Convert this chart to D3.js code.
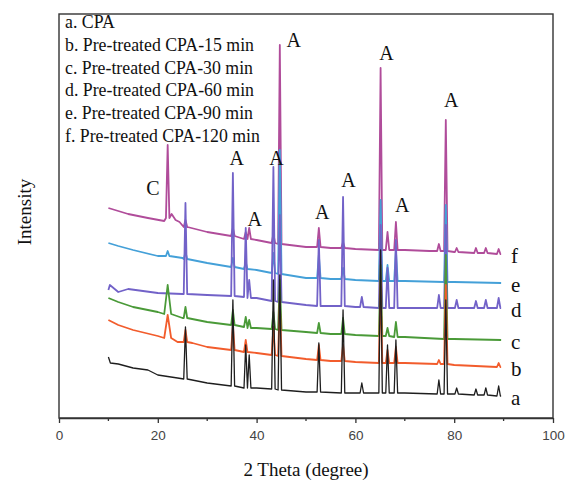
<!DOCTYPE html>
<html>
<head>
<meta charset="utf-8">
<script src="https://cdn.jsdelivr.net/npm/d3@7"></script>
<style>
  body { margin: 0; background: #fff; }
  text { font-family: "Liberation Serif", "Times New Roman", serif; }
  .tick text { font-family: "Liberation Sans", Arial, sans-serif; }
</style>
</head>
<body>
<div id="chart"></div>
<script>
// XRD patterns, 2theta in degrees, intensity in arbitrary units (stacked)
var seriesNames = ['a', 'b', 'c', 'd', 'e', 'f'];
var legendLabels = [
    'a. CPA',
    'b. Pre-treated CPA-15 min',
    'c. Pre-treated CPA-30 min',
    'd. Pre-treated CPA-60 min',
    'e. Pre-treated CPA-90 min',
    'f. Pre-treated CPA-120 min'
];
var seriesColors = ['#1e1e1e', '#f25c2c', '#4a9a38', '#7262c8', '#44a0d8', '#b04c9a'];

// background (baseline) points [2theta, intensity]
var baseA = [[10,61],[10.4,55],[12,54],[15,50],[18,48],[20,43],[24,40],[30,35],[35,32],[40,30],[45,28],[50,26],[60,25],[70,25],[80,24],[89.5,22]];
var baseB = [[10,98],[12,93],[15,88],[20,82],[24,76],[27,75],[30,71],[35,68],[40,65],[45,62],[50,59],[55,57],[60,56],[70,55],[80,53],[89.5,51]];
var baseC = [[10,120],[12,116],[15,111],[20,106],[25,100],[30,96],[35,93],[40,90],[45,88],[50,86],[55,84],[60,83],[70,81],[80,79],[89.5,78]];
var baseD = [[10,128],[10.3,133],[12,126],[14,129],[17,127],[20,125],[25,124],[30,123],[35,122],[40,120],[45,116],[50,113],[55,112],[60,111],[70,110],[80,110],[89.5,110]];
var baseE = [[10,175],[12,172],[15,168],[20,162],[22,163],[25,160],[30,155],[35,151],[40,148],[45,143],[50,140],[55,139],[60,138],[70,137],[80,136],[89.5,135]];
var baseF = [[10,210],[14,204],[18,200],[21.3,197],[22.8,204],[23.6,198],[24.4,196],[26,191],[30,186],[35,182],[40,178],[45,174],[50,171],[55,170],[60,169],[65,168],[70,168],[75,167],[80,166],[85,165],[89.5,164]];

// peaks [2theta, apex, foot, half width]
var peaksA = [[25.6,91,39],[35.2,118,32],[37.8,73,30],[38.5,63,30],[43.4,138,29],[44.7,143,28],[52.6,75,26],[57.5,108,25],[61.3,35,25],[65.1,168,25],[66.5,73,25],[68.2,78,25],[76.9,38,24],[78.3,118,24],[80.5,30,24],[84.4,29,23],[86.4,30,23],[89.0,32,22]];
var peaksB = [[22.0,103,80,0.7],[25.6,88,76],[35.2,93,68],[37.8,78,66],[43.4,91,63],[44.7,118,62],[52.6,73,58],[57.5,73,57],[65.1,138,55],[66.5,68,55],[68.2,71,55],[76.9,58,54],[78.3,133,54],[89.0,55,51]];
var peaksC = [[22.0,133,104,0.7],[25.6,111,100],[35.2,108,93],[37.8,101,91],[38.5,98,90],[43.4,106,89],[44.7,138,88],[52.6,95,85],[57.5,100,84],[65.1,153,82],[66.5,90,82],[68.2,96,81],[78.3,163,79]];
var peaksD = [[25.6,215,124],[35.2,245,122],[37.8,190,121],[38.5,138,120],[43.4,251,117],[44.7,203,116],[52.6,178,112],[57.5,221,112],[61.3,121,111],[65.1,193,110],[66.5,150,110],[68.2,178,110],[76.9,123,110],[78.3,193,110],[80.5,118,110],[84.4,117,110],[86.4,118,110],[89.0,120,110]];
var peaksE = [[22.0,167,162],[25.6,166,159],[35.2,160,151],[37.8,156,149],[43.4,165,145],[44.7,268,144],[52.6,163,140],[57.5,150,139],[65.1,218,137],[66.5,153,137],[68.2,168,137],[78.3,213,136]];
var peaksF = [[22.0,273,200],[25.6,198,191],[35.2,190,182],[37.8,186,179],[38.5,190,179],[43.4,184,175],[44.7,373,174],[52.6,190,171],[57.5,176,170],[65.1,350,168],[66.5,186,168],[68.2,196,168],[76.9,174,167],[78.3,298,167],[80.5,170,166],[84.4,170,165],[86.4,170,165],[89.0,169,164]];

var baselines = [baseA, baseB, baseC, baseD, baseE, baseF];
var peakLists = [peaksA, peaksB, peaksC, peaksD, peaksE, peaksF];

// phase labels [text, 2theta, intensity]
var phaseLabels = [['C',19.0,223],['A',36.0,253],['A',39.6,192],['A',44.0,253],['A',47.5,371],
    ['A',53.3,199],['A',58.6,231],['A',66.3,358],['A',69.5,206],['A',79.4,311]];

var xTicks = [0, 20, 40, 60, 80, 100];
var xMinorTicks = [10, 30, 50, 70, 90];

var W = 566, H = 482;
var margin = { top: 14, right: 13, bottom: 64, left: 59 };

var svg = d3.select('#chart').append('svg')
    .attr('width', W)
    .attr('height', H);

var x = d3.scaleLinear().domain([0, 100]).range([margin.left, W - margin.right]);
var y = d3.scaleLinear().domain([0, 404]).range([H - margin.bottom, margin.top]);

var line = d3.line()
    .x(function (d) { return x(d[0]); })
    .y(function (d) { return y(d[1]); });

// merge background and peaks into one trace
function buildTrace(base, peaks) {
    var pts = base.filter(function (b) {
        return !peaks.some(function (p) {
            var w = p[3] || 0.35;
            return b[0] > p[0] - w && b[0] < p[0] + w;
        });
    });
    peaks.forEach(function (p) {
        var w = p[3] || 0.35;
        pts.push([p[0] - w, p[2]]);
        pts.push([p[0], p[1]]);
        pts.push([p[0] + w, p[2]]);
    });
    pts.sort(function (a, b) { return a[0] - b[0]; });
    return pts;
}

var g = svg.append('g');

// draw bottom pattern last so it sits on top like the original
seriesNames.slice().reverse().forEach(function (name) {
    var i = seriesNames.indexOf(name);
    var trace = buildTrace(baselines[i], peakLists[i]);
    g.append('path')
        .datum(trace)
        .attr('fill', 'none')
        .attr('stroke', seriesColors[i])
        .attr('stroke-width', i === 0 ? 1.3 : 1.8)
        .attr('stroke-linejoin', 'round')
        .attr('d', line);

    var last = baselines[i][baselines[i].length - 1];
    svg.append('text')
        .attr('x', x(91.5))
        .attr('y', y(last[1]) + 9)
        .attr('font-size', 21)
        .attr('fill', '#111')
        .text(name);
});

// frame
svg.append('rect')
    .attr('x', x(0))
    .attr('y', y(404))
    .attr('width', x(100) - x(0))
    .attr('height', y(0) - y(404))
    .attr('fill', 'none')
    .attr('stroke', '#333')
    .attr('stroke-width', 1.4);

// x axis
var xAxis = svg.append('g')
    .attr('transform', 'translate(0,' + y(0) + ')')
    .call(d3.axisBottom(x).tickValues(xTicks).tickSize(5).tickSizeOuter(0).tickPadding(7));
xAxis.select('.domain').attr('stroke', '#333').attr('stroke-width', 1.4);
xAxis.selectAll('.tick line').attr('stroke', '#333').attr('stroke-width', 1.3);
xAxis.selectAll('.tick text').attr('font-size', 13.5).attr('fill', '#444');

svg.append('g').selectAll('line')
    .data(xMinorTicks)
    .enter().append('line')
    .attr('x1', function (d) { return x(d); })
    .attr('x2', function (d) { return x(d); })
    .attr('y1', y(0))
    .attr('y2', y(0) + 3)
    .attr('stroke', '#333')
    .attr('stroke-width', 1.3);

// legend text
svg.append('g').selectAll('text')
    .data(legendLabels)
    .enter().append('text')
    .attr('x', 65)
    .attr('y', function (d, i) { return 28 + i * 22.8; })
    .attr('font-size', 17.8)
    .attr('fill', '#111')
    .text(function (d) { return d; });

// phase labels
svg.append('g').selectAll('text')
    .data(phaseLabels)
    .enter().append('text')
    .attr('x', function (d) { return x(d[1]); })
    .attr('y', function (d) { return y(d[2]); })
    .attr('text-anchor', 'middle')
    .attr('font-size', 20)
    .attr('fill', '#111')
    .text(function (d) { return d[0]; });

// axis titles
svg.append('text')
    .attr('x', (x(0) + x(100)) / 2)
    .attr('y', 476)
    .attr('text-anchor', 'middle')
    .attr('font-size', 19)
    .attr('fill', '#111')
    .text('2 Theta (degree)');

svg.append('text')
    .attr('transform', 'translate(31,212) rotate(-90)')
    .attr('text-anchor', 'middle')
    .attr('font-size', 19)
    .attr('fill', '#111')
    .text('Intensity');
</script>
</body>
</html>
